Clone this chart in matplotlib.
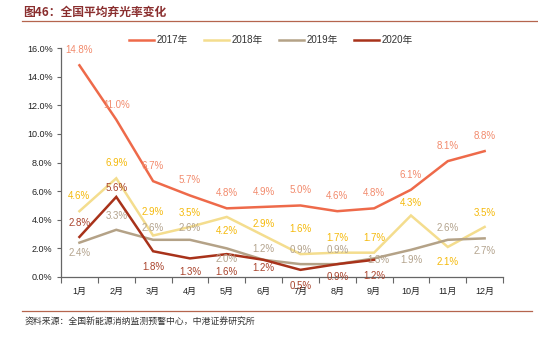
import matplotlib as mpl
mpl.use('Agg')
import matplotlib.pyplot as plt
from matplotlib.lines import Line2D
from matplotlib.ticker import FixedLocator, FuncFormatter

plt.rcParams['font.family'] = ['Liberation Sans', 'Noto Sans CJK SC']

months = ['1月', '2月', '3月', '4月', '5月', '6月', '7月', '8月', '9月', '10月', '11月', '12月']
rate_2017 = [14.8, 11.0, 6.7, 5.7, 4.8, 4.9, 5.0, 4.6, 4.8, 6.1, 8.1, 8.8]
rate_2018 = [4.6, 6.9, 2.9, 3.5, 4.2, 2.9, 1.6, 1.7, 1.7, 4.3, 2.1, 3.5]
rate_2019 = [2.4, 3.3, 2.6, 2.6, 2.0, 1.2, 0.9, 0.9, 1.3, 1.9, 2.6, 2.7]
rate_2020 = [2.8, 5.6, 1.8, 1.3, 1.6, 1.2, 0.5, 0.9, 1.2]

# label offsets in pixels (dx, dy) for each point
off_2017 = [(0, 15)] * 12
off_2018 = [(0, 15), (0, 15), (0, 24), (0, 14), (0, -14), (0, 12),
            (0, 25), (0, 15), (0, 15), (0, 12), (0, -15), (0, 14)]
off_2019 = [(0, -10), (0, 14), (0, 12), (0, 12), (0, -11), (0, 11),
            (0, 14), (0, 14), (4, -2), (0, -10), (0, 12), (0, -13)]
off_2020 = [(0, 14), (0, 9), (0, -16), (0, -14), (0, -18), (0, -8),
            (0, -16), (0, -13), (0, -16)]

series = [
    ('2017年', rate_2017, off_2017, '#EE6A4A', '#F28A6C'),
    ('2018年', rate_2018, off_2018, '#F4DD8E', '#F5B90A'),
    ('2019年', rate_2019, off_2019, '#B4A287', '#B3A38D'),
    ('2020年', rate_2020, off_2020, '#A8321A', '#A9432C'),
]

mydpi = 100
fig = plt.figure(figsize=(538 / mydpi, 339 / mydpi), dpi=mydpi)
ax = fig.add_axes([0.1134, 0.1829, 0.8216, 0.6751])

for name, vals, offs, lc, tc in series:
    x = list(range(1, len(vals) + 1))
    ax.plot(x, vals, color=lc, lw=1.8, label=name, solid_joinstyle='miter')
    for xi, v, (dx, dy) in zip(x, vals, offs):
        ax.annotate(f'{v:.1f}%', (xi, v), xytext=(dx, dy), textcoords='offset pixels',
                    ha='center', va='center', fontsize=7, color=tc)

ax.set_xlim(0.5, 12.5)
ax.set_ylim(0, 16)
ax.set_yticks(range(0, 17, 2))
ax.yaxis.set_major_formatter(FuncFormatter(lambda v, p: f'{v:.1f}%'))
ax.set_xticks(range(1, 13))
ax.set_xticklabels(months)
ax.xaxis.set_minor_locator(FixedLocator([i + 0.5 for i in range(0, 13)]))
ax.tick_params(axis='x', which='major', length=0, pad=7, labelsize=6.5, colors='#222222')
ax.tick_params(axis='x', which='minor', length=4, color='#666666', width=0.8)
ax.tick_params(axis='y', length=3, color='#666666', width=0.8, labelsize=6.5, labelcolor='#222222', pad=3)
for s in ['top', 'right']:
    ax.spines[s].set_visible(False)
for s in ['left', 'bottom']:
    ax.spines[s].set_color('#666666')
    ax.spines[s].set_linewidth(0.9)

ax.legend(loc='center', bbox_to_anchor=(271 / 538, 1 - 40 / 339), bbox_transform=fig.transFigure,
          ncol=4, frameon=False, fontsize=7, handlelength=2.6, handletextpad=0.3,
          columnspacing=1.6, labelcolor='#333333')

fig.text(23 / 538, 1 - 12 / 339, '图46：全国平均弃光率变化', fontsize=8.5, fontweight='bold',
         color='#8A2E2E', va='center', ha='left', family=['Noto Sans CJK SC', 'DejaVu Sans'])
fig.add_artist(Line2D([22 / 538, 1.0], [1 - 21 / 339] * 2, color='#B5654E', lw=0.9))
fig.add_artist(Line2D([22 / 538, 532 / 538], [1 - 311 / 339] * 2, color='#B5654E', lw=0.9))
fig.text(25 / 538, 1 - 322 / 339, '资料来源：全国新能源消纳监测预警中心，中港证券研究所', fontsize=6.4,
         color='#333333', va='center', ha='left', style='italic',
         family=['Noto Sans CJK SC', 'DejaVu Sans'])

plt.savefig('out.png', dpi=mydpi)
plt.close(fig='all')
